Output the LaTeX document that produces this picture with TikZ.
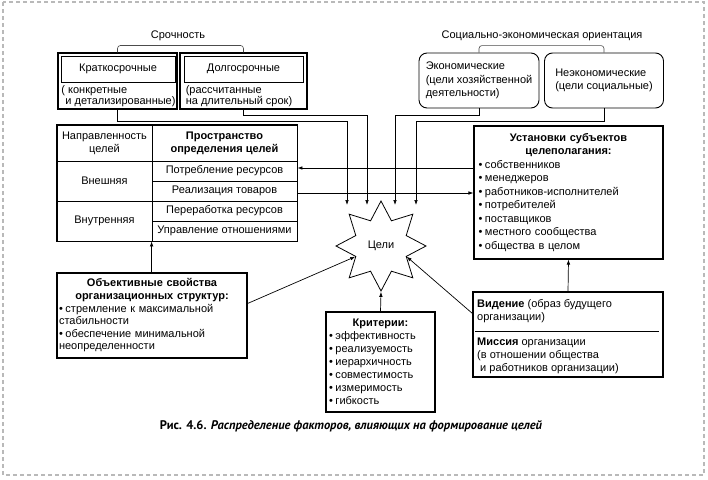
\documentclass[tikz,border=0pt]{standalone}
\usepackage{fontspec}
\setmainfont{Liberation Sans}
\newfontfamily\capfont{PT Sans}
\usetikzlibrary{arrows.meta,shapes.geometric}
\newcommand{\bul}{\par\noindent\hangindent=6.5pt\hangafter=1\makebox[6.5pt][l]{•}}
\begin{document}
\begin{tikzpicture}[x=1pt,y=-1pt,
	box/.style={draw, line width=1.1pt, inner sep=0pt},
	tbox/.style={draw, line width=0.9pt, inner sep=0pt},
	rbox/.style={draw, line width=0.9pt, rounded corners=8pt, inner sep=0pt},
	cell/.style={draw, line width=0.8pt, inner sep=0pt, align=center},
	txt/.style={inner sep=0pt},
	brk/.style={black!70, line width=0.6pt, rounded corners=3pt},
	arr/.style={-{Latex[length=5pt,width=3.6pt]}, line width=0.7pt},
	every node/.style={font=\fontsize{11}{13}\selectfont}]
	\useasboundingbox (0,0) rectangle (708,479);
	\draw[gray!55, line width=1.2pt, dash pattern=on 4pt off 3pt] (3,2) rectangle (704,475);
	% srochnost
	\node[txt] (srok) at (178,36) {Срочность};
	\node[box, minimum width=119pt, minimum height=56pt] (krat) at (117.5,81) {};
	\node[tbox, minimum width=114pt, minimum height=26pt] (kratt) at (118,69) {Краткосрочные};
	\node[txt, align=left, font=\fontsize{11}{11}\selectfont] (kratd) at (118.5,96) {( конкретные\\\hspace{4pt}и детализированные)};
	\node[box, minimum width=127pt, minimum height=56pt] (dolg) at (243.5,81) {};
	\node[tbox, minimum width=119pt, minimum height=26pt] (dolgt) at (243.5,69) {Долгосрочные};
	\node[txt, align=left, font=\fontsize{11}{11}\selectfont] (dolgd) at (239,96) {(рассчитанные\\на длительный срок)};
	\draw[brk] (krat.north) -- ++(0,-7) -| (dolg.north);
	% orientacija
	\node[txt] (soc) at (542,36) {Социально-экономическая ориентация};
	\node[rbox, minimum width=120pt, minimum height=55pt, align=left, font=\fontsize{11}{13.5}\selectfont] (econ) at (479,80.5) {Экономические\\(цели хозяйственной\\деятельности)};
	\node[rbox, minimum width=119pt, minimum height=55pt, align=left, font=\fontsize{11}{13.5}\selectfont] (neec) at (604,80.5) {Неэкономические\\(цели социальные)};
	\draw[brk] (econ.north) -- ++(0,-7) -| (neec.north);
	% tablica
	\node[cell, minimum width=95pt, minimum height=36pt] (h1) at (104.5,143) {Направленность\\целей};
	\node[cell, minimum width=145pt, minimum height=36pt, font=\fontsize{11}{13}\selectfont\bfseries] (h2) at (224.5,143) {Пространство\\определения целей};
	\node[cell, minimum width=95pt, minimum height=40pt] (ext) at (104.5,181) {Внешняя};
	\node[cell, minimum width=95pt, minimum height=40pt] (int) at (104.5,221) {Внутренняя};
	\node[cell, minimum width=145pt, minimum height=20pt] (r1) at (224.5,171) {Потребление ресурсов};
	\node[cell, minimum width=145pt, minimum height=20pt] (r2) at (224.5,191) {Реализация товаров};
	\node[cell, minimum width=145pt, minimum height=20pt] (r3) at (224.5,211) {Переработка ресурсов};
	\node[cell, minimum width=145pt, minimum height=20pt] (r4) at (224.5,231) {Управление отношениями};
	\draw[line width=1.1pt] (h1.north west) rectangle (r4.south east);
	% ustanovki
	\node[box, minimum width=189pt, minimum height=133pt, text width=180pt, inner xsep=4.5pt,
		font=\fontsize{11}{13.5}\selectfont] (ust) at (568.5,192.5)
		{{\centering\bfseries Установки субъектов\\целеполагания:\par}%
		\bul собственников\bul менеджеров\bul работников-исполнителей\bul потребителей%
		\bul поставщиков\bul местного сообщества\bul общества в целом};
	% celi
	\node[star, star points=8, star point ratio=1.65, minimum size=90pt, draw, line width=0.8pt, inner sep=0pt] (goal) at (381,246) {Цели};
	% obektivnye svojstva
	\node[box, minimum width=190pt, minimum height=85pt, text width=186pt, inner xsep=2pt,
		font=\fontsize{11}{12.6}\selectfont] (obj) at (152,315.5)
		{{\centering\bfseries Объективные свойства\\организационных структур:\par}%
		\bul стремление к максимальной\\стабильности\bul обеспечение минимальной\\неопределенности};
	% kriterii
	\node[box, minimum width=109pt, minimum height=100pt, text width=103pt, inner xsep=3pt] (krit) at (380.5,362)
		{{\centering\bfseries Критерии:\par}%
		\bul эффективность\bul реализуемость\bul иерархичность\bul совместимость\bul измеримость\bul гибкость};
	% videnie
	\node[box, minimum width=190pt, minimum height=85pt] (vid) at (568,334.5) {};
	\node[txt, anchor=base west, align=left] (vidt) at (477,320) {\textbf{Видение} (образ будущего\\организации)};
	\node[txt, anchor=base west, align=left] (mist) at (477,371) {\textbf{Миссия} организации\\(в отношении общества\\\hspace{3pt}и работников организации)};
	\draw[line width=0.7pt] ([xshift=3pt,yshift=-40pt]vid.north west) -- ([xshift=-5pt,yshift=-40pt]vid.north east);
	% strelki
	\coordinate (g1) at (347,205);
	\coordinate (g2) at (367,205);
	\coordinate (g3) at (395,205);
	\coordinate (g4) at (416,205);
	\draw[arr] (krat.south) -- ++(0,12) -| (g1);
	\draw[arr] (dolg.south) -- ++(0,6) -| (g2);
	\draw[arr] (econ.south) -- ++(0,7) -| (g3);
	\draw[arr] (neec.south) -- ++(0,13) -| (g4);
	\coordinate (p1) at ([yshift=3pt]r1.east);
	\coordinate (p2) at ([yshift=-2pt]r2.east);
	\draw[arr] (p1 -| ust.west) -- (p1);
	\draw[arr] (p2) -- (p2 -| ust.west);
	\draw[arr] (obj.north -| r4.west) -- (r4.south west);
	\draw[arr] ([yshift=12pt]obj.east) -- (goal.inner point 3);
	\draw[arr] ([yshift=21pt]vid.west) -- (goal.inner point 6);
	\draw[arr] (krit.north) -- (goal.outer point 5);
	\draw[arr] (vid.north) -- (ust.south);
	% podpis
	\node[txt, font=\capfont\bfseries\fontsize{12.5}{14}\selectfont] (cap) at (351,426)
		{Рис. 4.6. \textit{Распределение факторов, влияющих на формирование целей}};
\end{tikzpicture}
\end{document}
